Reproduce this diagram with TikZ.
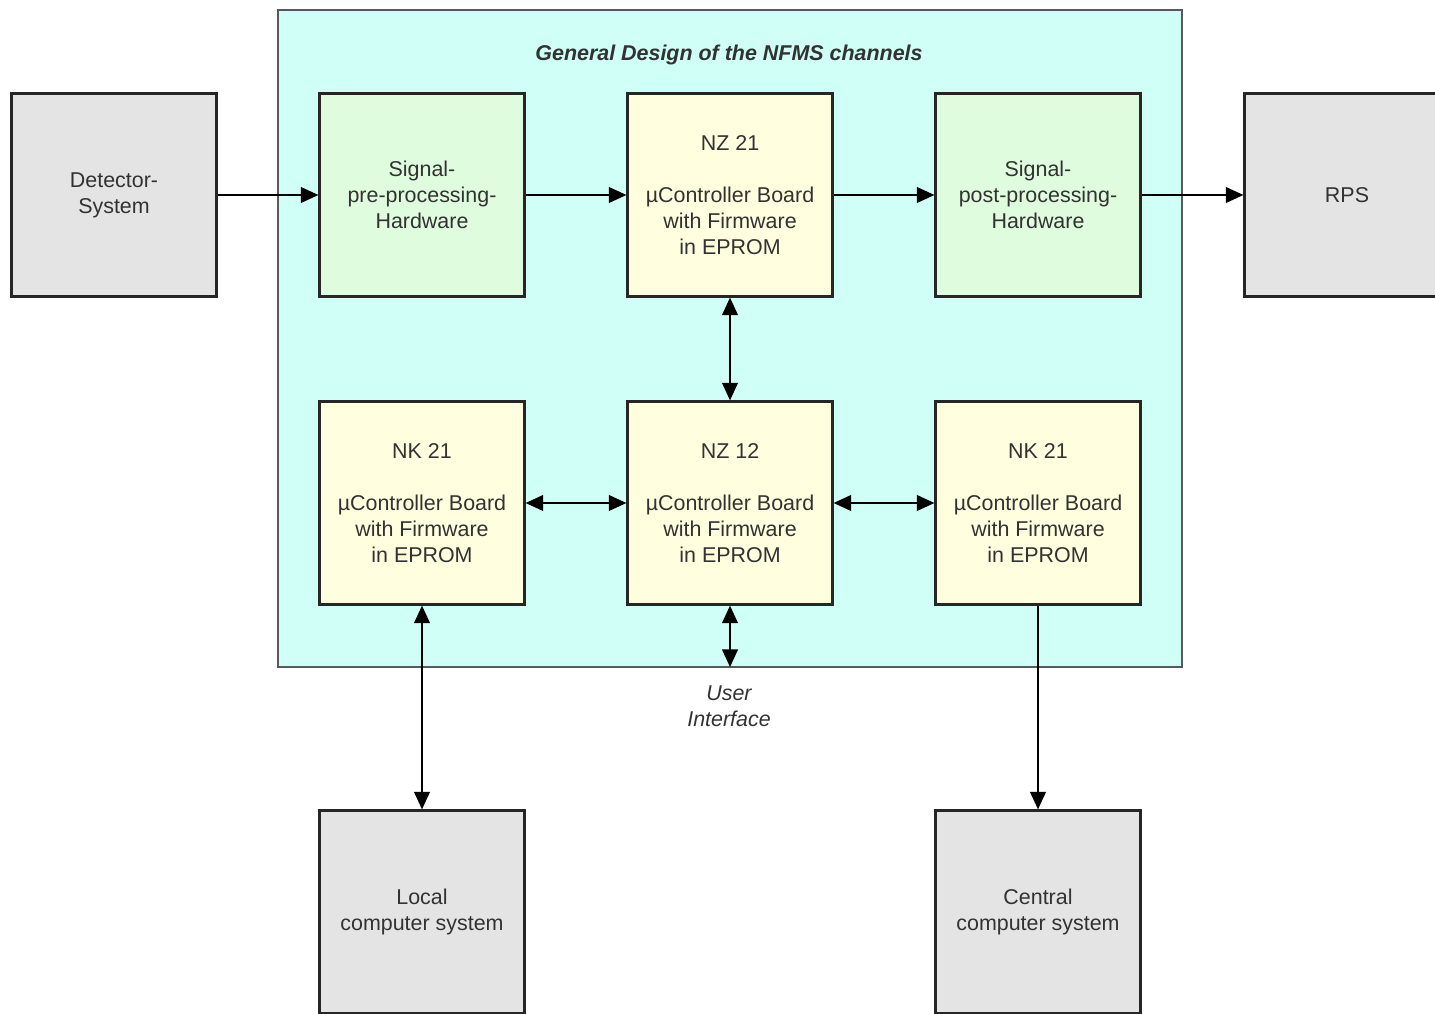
\documentclass[tikz,border=0pt]{standalone}
\usepackage{fontspec}
\setmainfont{Liberation Sans}
\usetikzlibrary{arrows.meta}
\usetikzlibrary{calc}

\definecolor{panelcyan}{RGB}{208,255,248}
\definecolor{hwgreen}{RGB}{224,252,222}
\definecolor{boardyellow}{RGB}{255,255,224}
\definecolor{extgrey}{RGB}{228,228,228}
\definecolor{inkgrey}{RGB}{50,50,50}

\begin{document}
\begin{tikzpicture}[x=0.02cm,y=-0.02cm,
    box/.style={draw=black!85, line width=1.3pt, minimum width=4.1cm, minimum height=4.06cm,
        align=center, inner sep=0pt, text=inkgrey, font=\fontsize{12.2}{14.8}\selectfont},
    extbox/.style={box, fill=extgrey},
    hwbox/.style={box, fill=hwgreen},
    boardbox/.style={box, fill=boardyellow},
    link/.style={draw=black, line width=0.9pt, -{Triangle[length=10pt,width=9pt]}},
    duplex/.style={link, {Triangle[length=10pt,width=9pt]}-{Triangle[length=10pt,width=9pt]}}]
            \clip (0,0) rectangle (1435,1013);
            \useasboundingbox (0,0) rectangle (1435,1013);

            % channel panel
            \filldraw[fill=panelcyan, draw=black!65, line width=1.3pt] (278,10) rectangle (1182,667);
            \node[text=inkgrey, font=\fontsize{12.2}{14.8}\selectfont\bfseries\itshape] (title) at (729,55)
                {General Design of the NFMS channels};

            % top row
            \node[extbox] (detector) at (114,195) {Detector-\\System};
            \node[hwbox] (prehw) at (422,195) {Signal-\\pre-processing-\\Hardware};
            \node[boardbox] (nzone) at (730,195) {NZ 21\\[14.8pt]µController Board\\with Firmware\\in EPROM};
            \node[hwbox] (posthw) at (1038,195) {Signal-\\post-processing-\\Hardware};
            \node[extbox] (rps) at (1347,195) {RPS};

            % bottom row
            \node[boardbox] (nkleft) at (422,503) {NK 21\\[14.8pt]µController Board\\with Firmware\\in EPROM};
            \node[boardbox] (nztwo) at (730,503) {NZ 12\\[14.8pt]µController Board\\with Firmware\\in EPROM};
            \node[boardbox] (nkright) at (1038,503) {NK 21\\[14.8pt]µController Board\\with Firmware\\in EPROM};

            % outside computers
            \node[extbox] (local) at (422,912) {Local\\computer system};
            \node[extbox] (central) at (1038,912) {Central\\computer system};

            \coordinate (ui) at (730,667);
            \node[text=inkgrey, align=center, font=\fontsize{12.2}{14.8}\selectfont\itshape] (uilabel) at (729,706)
                {User\\Interface};

            % signal chain
            \draw[link] (detector) -- (prehw);
            \draw[link] (prehw) -- (nzone);
            \draw[link] (nzone) -- (posthw);
            \draw[link] (posthw) -- (rps);

            % board links
            \draw[duplex] (nzone) -- (nztwo);
            \draw[duplex] (nkleft) -- (nztwo);
            \draw[duplex] (nztwo) -- (nkright);
            \draw[duplex] (nztwo) -- (ui);
            \draw[duplex] (nkleft) -- (local);
            \draw[link] (nkright) -- (central);
        \end{tikzpicture}
\end{document}
